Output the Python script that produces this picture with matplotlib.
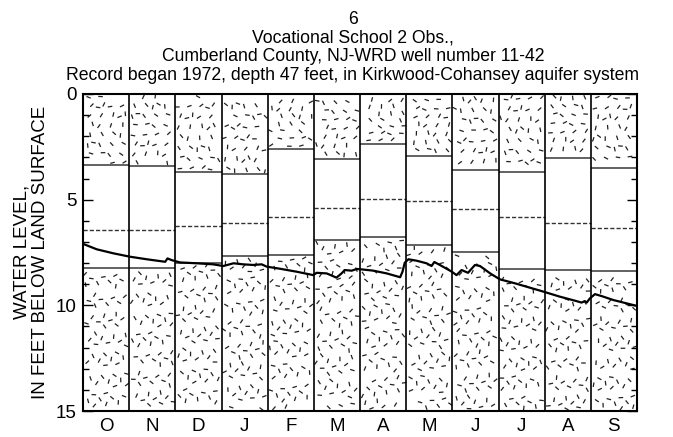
import numpy as np
import matplotlib
matplotlib.use("Agg")
import matplotlib.pyplot as plt
from matplotlib.collections import LineCollection

plt.rcParams['font.family'] = ['Liberation Sans', 'DejaVu Sans']

# ---------------- data ----------------
months = ["O", "N", "D", "J", "F", "M", "A", "M", "J", "J", "A", "S"]
# white box top (shallower percentile), median (dashed), bottom (deeper percentile), feet below land surface
box_top = [3.36, 3.39, 3.67, 3.79, 2.62, 3.06, 2.38, 2.95, 3.60, 3.69, 3.03, 3.50]
box_median = [6.42, 6.44, 6.26, 6.09, 5.80, 5.38, 4.99, 5.05, 5.43, 5.84, 6.09, 6.36]
box_bottom = [8.25, 8.25, 7.98, 7.67, 7.62, 6.93, 6.78, 7.16, 7.49, 8.30, 8.33, 8.38]

# water-level trace: time in months from start of October, depth in feet
wl_time = [0.01, 0.30, 0.66, 1.02, 1.38, 1.78, 1.83, 1.92, 2.10, 2.46, 2.82, 3.04,
           3.26, 3.47, 3.69, 3.87, 3.98, 4.27, 4.63, 4.99, 5.06, 5.28, 5.49, 5.60,
           5.67, 5.82, 5.93, 6.04, 6.29, 6.58, 6.87, 6.92, 6.97, 7.05, 7.23, 7.44,
           7.55, 7.61, 7.73, 7.99, 8.09, 8.20, 8.34, 8.49, 8.60, 8.82, 9.03, 9.36,
           9.61, 9.97, 10.33, 10.69, 10.80, 10.87, 10.91, 10.98, 11.09, 11.23,
           11.49, 11.78, 12.0]
wl_depth = [7.10, 7.35, 7.54, 7.70, 7.82, 7.94, 7.78, 7.86, 7.97, 8.01, 8.06, 8.14,
            8.01, 8.06, 8.09, 8.06, 8.17, 8.27, 8.41, 8.57, 8.46, 8.49, 8.69, 8.49,
            8.33, 8.36, 8.28, 8.30, 8.36, 8.49, 8.67, 8.41, 7.98, 7.82, 7.89, 8.01,
            8.14, 7.95, 8.09, 8.41, 8.57, 8.33, 8.46, 8.09, 8.14, 8.49, 8.77, 8.96,
            9.12, 9.35, 9.59, 9.80, 9.87, 9.80, 9.87, 9.67, 9.47, 9.56,
            9.75, 9.91, 10.03]

title_lines = ["6", "Vocational School 2 Obs.,",
               "Cumberland County, NJ-WRD well number 11-42",
               "Record began 1972, depth 47 feet, in Kirkwood-Cohansey aquifer system"]
y_ticks = [0, 5, 10, 15]

# ---------------- figure ----------------
W, H = 673, 437
fig = plt.figure(figsize=(W / 100, H / 100), dpi=100)
L, R, B, T = 83, 637, 411, 94
ax = fig.add_axes([L / W, 1 - B / H, (R - L) / W, (B - T) / H])
ax.set_xlim(0, 12)
ax.set_ylim(15, 0)

px_x = (R - L) / 12.0   # pixels per month
px_y = (B - T) / 15.0   # pixels per foot

# stipple texture (decorative, deterministic quasi-random placement)
def stipple(x0, x1, y0, y1, start):
    w = (x1 - x0) * px_x
    h = (y1 - y0) * px_y
    n = int(w * h / 105)
    segs = []
    g1, g2, g3 = 0.7548776662, 0.5698402910, 0.4142135624
    for k in range(n):
        i = start + k
        u = (0.31 + g1 * i) % 1.0
        v = (0.17 + g2 * i) % 1.0
        a = ((0.05 + g3 * i) % 1.0) * np.pi
        cx = x0 + (2 + u * (w - 4)) / px_x
        cy = y0 + (2 + v * (h - 4)) / px_y
        dl = 2.3
        dx = dl * np.cos(a) / px_x
        dy = dl * np.sin(a) / px_y
        segs.append([(cx - dx, cy - dy), (cx + dx, cy + dy)])
    lc = LineCollection(segs, colors='#222222', linewidths=0.9, zorder=1)
    ax.add_collection(lc)
    return start + n

s = 0
for i in range(12):
    s = stipple(i, i + 1, 0, box_top[i], s)
    s = stipple(i, i + 1, box_bottom[i], 15, s)
    ax.hlines([box_top[i], box_bottom[i]], i, i + 1, colors='#555555', linewidth=1.3, zorder=2)
    ax.hlines(box_median[i], i, i + 1, colors='#333333', linewidth=1.0,
              linestyles=(0, (3, 1.5)), zorder=2)

ax.vlines(range(1, 12), 0, 15, colors='black', linewidth=1.2, zorder=3)

ax.plot(wl_time, wl_depth, color='black', linewidth=1.6, zorder=4)

for sp in ax.spines.values():
    sp.set_linewidth(1.5)

ax.set_yticks(y_ticks)
ax.set_yticks(range(0, 16), minor=True)
ax.set_yticklabels([str(v) for v in y_ticks], fontsize=13.5)
ax.tick_params(axis='y', which='major', direction='in', length=7, width=1,
               right=True, pad=4.5)
ax.tick_params(axis='y', which='minor', direction='in', length=4, width=1, right=True)
ax.set_xticks(np.arange(12) + 0.5)
ax.set_xticklabels(months, fontsize=13.5)
ax.tick_params(axis='x', length=0, pad=5)

baselines = [24, 42.7, 61.3, 80]
for txt, yb in zip(title_lines, baselines):
    fig.text(353 / W, 1 - yb / H, txt, ha='center', va='baseline', fontsize=12.7)

fig.text(31 / W, 1 - 252 / H, "WATER LEVEL,\nIN FEET BELOW LAND SURFACE", rotation=90,
         ha='center', va='center', multialignment='center', fontsize=13.5,
         linespacing=1.12)

fig.savefig("out.png", dpi=100)
